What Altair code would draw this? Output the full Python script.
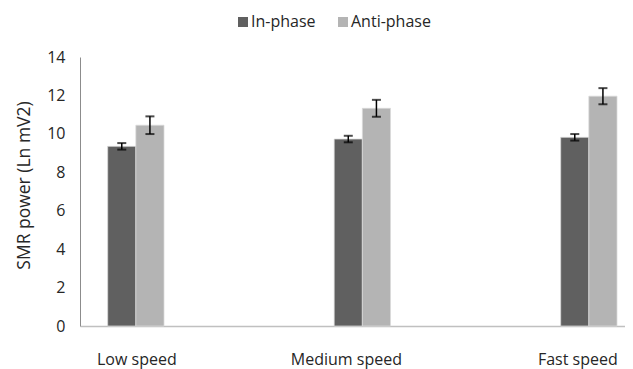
import altair as alt
import pandas as pd

categories = ["Low speed", "Medium speed", "Fast speed"]
series = ["In-phase", "Anti-phase"]
in_phase = [9.35, 9.73, 9.82]
anti_phase = [10.45, 11.33, 11.96]
in_err = [0.17, 0.17, 0.17]
anti_err = [0.46, 0.44, 0.42]
y_ticks = [0, 2, 4, 6, 8, 10, 12, 14]

rows = []
for i, c in enumerate(categories):
    rows.append({"speed": c, "phase": series[0], "value": in_phase[i],
                 "lo": in_phase[i] - in_err[i], "hi": in_phase[i] + in_err[i]})
    rows.append({"speed": c, "phase": series[1], "value": anti_phase[i],
                 "lo": anti_phase[i] - anti_err[i], "hi": anti_phase[i] + anti_err[i]})
df = pd.DataFrame(rows)

FONT = "Open Sans"
TXT = "#262626"

label_shift = {
    "condition": [
        {"test": "datum.value === 'Medium speed'", "value": -16},
        {"test": "datum.value === 'Fast speed'", "value": -11},
    ],
    "value": 1,
}

x_axis = alt.Axis(title=None, labelAngle=0, ticks=False, tickSize=0,
                  labelPadding=25, labelFont=FONT, labelFontSize=16,
                  labelColor=TXT, domainColor="#c0c0c0", domainWidth=1.5,
                  labelOffset=label_shift)
x_scale = alt.Scale(paddingInner=0.7514, paddingOuter=0.0788, align=0.776)

y_axis = alt.Axis(title="SMR power (Ln mV2)", values=y_ticks, grid=False,
                  ticks=False, tickSize=0, labelPadding=15, labelFont=FONT,
                  labelFontSize=16, labelColor=TXT, domainColor="#8c8c8c",
                  labelOverlap=False,
                  domainWidth=1, titleFont=FONT, titleFontSize=17.5,
                  titleFontWeight="normal", titleColor=TXT,
                  titleX=-47, titleY=128, titleBaseline="bottom", titleAngle=-90)
y_scale = alt.Scale(domain=[0, 14], nice=False, zero=True)


def xenc():
    return alt.X("speed:N", sort=categories, scale=x_scale, axis=x_axis)


def xoff():
    return alt.XOffset("phase:N", sort=series, scale=alt.Scale(paddingInner=0, paddingOuter=0))


bars = alt.Chart(df).mark_bar(stroke="#d9d9d9", strokeWidth=0.75).encode(
    x=xenc(),
    xOffset=xoff(),
    y=alt.Y("value:Q", scale=y_scale, axis=y_axis),
    color=alt.Color("phase:N", sort=series,
                    scale=alt.Scale(domain=series, range=["#606060", "#b4b4b4"]),
                    legend=alt.Legend(title=None, orient="none", direction="horizontal",
                                      legendX=155, legendY=-43, symbolType="square",
                                      symbolSize=100, symbolStrokeWidth=0,
                                      labelFont=FONT, labelFontSize=16, labelColor=TXT,
                                      labelOffset=0, columnPadding=19, padding=0)),
)

rules = alt.Chart(df).mark_rule(color="black", strokeWidth=1.5).encode(
    x=xenc(),
    xOffset=xoff(),
    y=alt.Y("lo:Q", scale=y_scale, axis=y_axis),
    y2="hi:Q",
)

caps_lo = alt.Chart(df).mark_tick(color="black", size=9, thickness=2, orient="horizontal").encode(
    x=xenc(),
    xOffset=xoff(),
    y=alt.Y("lo:Q", scale=y_scale, axis=y_axis),
)
caps_hi = alt.Chart(df).mark_tick(color="black", size=9, thickness=2, orient="horizontal").encode(
    x=xenc(),
    xOffset=xoff(),
    y=alt.Y("hi:Q", scale=y_scale, axis=y_axis),
)

chart = alt.layer(bars, rules, caps_lo, caps_hi).properties(
    width=545, height=269,
    autosize=alt.AutoSizeParams(type="none"),
    padding={"left": 72, "top": 49, "right": 0, "bottom": 43},
).configure_view(stroke=None).configure_axisY(labelOverlap=False)

chart.save("out.html", embed_options={"renderer": "svg", "actions": False})
